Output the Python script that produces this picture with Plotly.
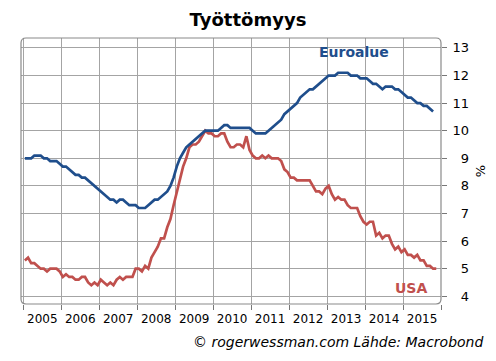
import plotly.graph_objects as go

years = list(range(2005, 2016))
year_labels = [str(y) for y in years]

# Eurozone unemployment, monthly Jan 2005 - Oct 2015
euro = [
    9.0, 9.0, 9.0, 9.1, 9.1, 9.1, 9.0, 9.0, 8.9, 8.9, 8.9, 8.8,
    8.7, 8.7, 8.6, 8.5, 8.4, 8.4, 8.3, 8.3, 8.2, 8.1, 8.0, 7.9,
    7.8, 7.7, 7.6, 7.5, 7.5, 7.4, 7.5, 7.5, 7.4, 7.3, 7.3, 7.3,
    7.2, 7.2, 7.2, 7.3, 7.4, 7.5, 7.5, 7.6, 7.7, 7.8, 8.0, 8.3,
    8.7, 9.0, 9.2, 9.4, 9.5, 9.6, 9.7, 9.8, 9.9, 10.0, 10.0, 10.0,
    10.0, 10.0, 10.1, 10.2, 10.2, 10.1, 10.1, 10.1, 10.1, 10.1, 10.1, 10.1,
    10.0, 9.9, 9.9, 9.9, 9.9, 10.0, 10.1, 10.2, 10.3, 10.4, 10.6, 10.7,
    10.8, 10.9, 11.0, 11.2, 11.3, 11.4, 11.5, 11.5, 11.6, 11.7, 11.8, 11.9,
    12.0, 12.0, 12.0, 12.1, 12.1, 12.1, 12.1, 12.0, 12.0, 12.0, 11.9, 11.9,
    11.9, 11.8, 11.7, 11.7, 11.6, 11.5, 11.6, 11.6, 11.6, 11.5, 11.5, 11.4,
    11.3, 11.2, 11.2, 11.1, 11.0, 11.0, 10.9, 10.9, 10.8, 10.7,
]

# USA unemployment, monthly Jan 2005 - Nov 2015
usa = [
    5.3, 5.4, 5.2, 5.2, 5.1, 5.0, 5.0, 4.9, 5.0, 5.0, 5.0, 4.9,
    4.7, 4.8, 4.7, 4.7, 4.6, 4.6, 4.7, 4.7, 4.5, 4.4, 4.5, 4.4,
    4.6, 4.5, 4.4, 4.5, 4.4, 4.6, 4.7, 4.6, 4.7, 4.7, 4.7, 5.0,
    5.0, 4.9, 5.1, 5.0, 5.4, 5.6, 5.8, 6.1, 6.1, 6.5, 6.8, 7.3,
    7.8, 8.3, 8.7, 9.0, 9.4, 9.5, 9.5, 9.6, 9.8, 10.0, 9.9, 9.9,
    9.8, 9.8, 9.9, 9.9, 9.6, 9.4, 9.4, 9.5, 9.5, 9.4, 9.8, 9.3,
    9.1, 9.0, 9.0, 9.1, 9.0, 9.1, 9.0, 9.0, 9.0, 8.9, 8.6, 8.5,
    8.3, 8.3, 8.2, 8.2, 8.2, 8.2, 8.2, 8.0, 7.8, 7.8, 7.7, 7.9,
    8.0, 7.7, 7.5, 7.6, 7.5, 7.5, 7.3, 7.2, 7.2, 7.2, 6.9, 6.7,
    6.6, 6.7, 6.7, 6.2, 6.3, 6.1, 6.2, 6.2, 5.9, 5.7, 5.8, 5.6,
    5.7, 5.5, 5.5, 5.4, 5.5, 5.3, 5.3, 5.1, 5.1, 5.0, 5.0,
]

y_ticks = list(range(4, 14))
y_labels = [("\u2007" + str(v)) if v < 10 else str(v) for v in y_ticks]

def month_x(n):
    return [2005 + (i + 0.5) / 12 for i in range(n)]

BLUE = "#1F4E8C"
RED = "#C0504D"
GRID = "#a4a4a4"
FONT = "DejaVu Sans, Verdana, sans-serif"

fig = go.Figure()
fig.add_trace(go.Scatter(x=month_x(len(usa)), y=usa, mode="lines",
                         line=dict(color=RED, width=2.7), name="USA"))
fig.add_trace(go.Scatter(x=month_x(len(euro)), y=euro, mode="lines",
                         line=dict(color=BLUE, width=2.7), name="Euroalue"))

L, R, T, B = 21, 55, 38, 57
W, H = 496, 361
pw, ph = W - L - R, H - T - B
rx, ry = 5 / pw, 5 / ph
path = (f"M {rx},0 L {1-rx},0 Q 1,0 1,{ry} L 1,{1-ry} Q 1,1 {1-rx},1 "
        f"L {rx},1 Q 0,1 0,{1-ry} L 0,{ry} Q 0,0 {rx},0 Z")

fig.update_layout(
    width=W, height=H,
    margin=dict(l=L, r=R, t=T, b=B, autoexpand=False),
    paper_bgcolor="white", plot_bgcolor="white",
    showlegend=False,
    font=dict(family=FONT, color="#000"),
    title=dict(text="<b>Työttömyys</b>", x=0.5, xanchor="center",
               y=1 - 20 / H, yanchor="middle",
               font=dict(size=18, family=FONT, color="#000")),
    xaxis=dict(
        range=[2004.94, 2016.0],
        tickmode="array",
        tickvals=[y + 0.5 for y in years],
        ticktext=year_labels,
        ticks="", showgrid=False, zeroline=False,
        tickfont=dict(size=12, family=FONT, color="#000"),
        ticklabelstandoff=6,
        minor=dict(tickmode="linear", tick0=2005, dtick=1, showgrid=True,
                   gridcolor=GRID, gridwidth=1, ticks="outside",
                   ticklen=5, tickcolor="#777", tickwidth=1),
    ),
    yaxis=dict(
        range=[3.72, 13.36], side="right",
        tickmode="array", tickvals=y_ticks, ticktext=y_labels,
        ticks="outside", ticklen=5, tickcolor="#777", tickwidth=1,
        showgrid=True, gridcolor=GRID, gridwidth=1, zeroline=False,
        tickfont=dict(size=13, family=FONT, color="#000"),
        ticklabelstandoff=3,
        title=dict(text="%", standoff=7,
                   font=dict(size=13, family=FONT, color="#000")),
    ),
    shapes=[dict(type="path", xref="paper", yref="paper", path=path,
                 line=dict(color="#8a8a8a", width=1.2), layer="above")],
    annotations=[
        dict(text="<b>Euroalue</b>", x=2013.7, y=12.85, xref="x", yref="y",
             showarrow=False, font=dict(size=14, color=BLUE, family=FONT)),
        dict(text="<b>USA</b>", x=2015.2, y=4.3, xref="x", yref="y",
             showarrow=False, font=dict(size=14, color=RED, family=FONT)),
        dict(text="<i>© rogerwessman.com Lähde: Macrobond</i>",
             x=(485 - L) / pw, y=1 - (342 - T) / ph,
             xref="paper", yref="paper",
             xanchor="right", yanchor="middle", showarrow=False,
             font=dict(size=14, color="#000", family=FONT)),
    ],
)

fig.write_html("out.html",
               config={"displayModeBar": False},
               post_script="document.body.style.margin='0px';")
